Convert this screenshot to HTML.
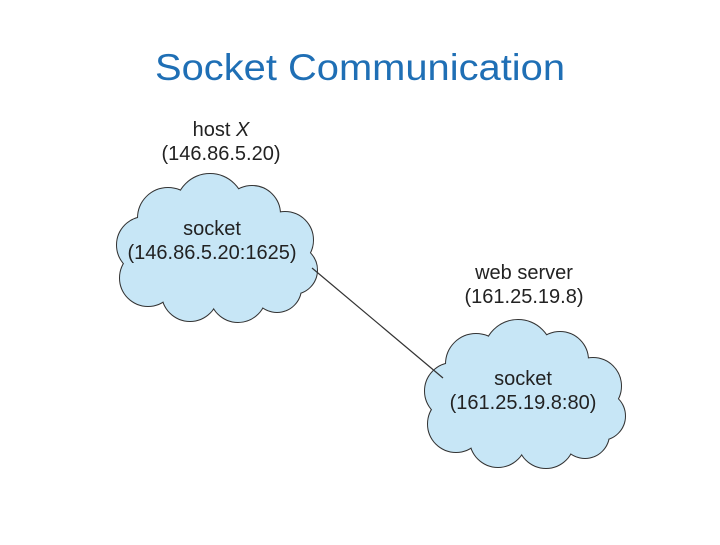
<!DOCTYPE html>
<html><head><style>
body{margin:0;width:720px;height:540px;background:#fff;overflow:hidden;font-family:"Liberation Sans",sans-serif}
</style></head><body>
<svg width="720" height="540" xmlns="http://www.w3.org/2000/svg">
<text x="155" y="80" textLength="410" lengthAdjust="spacingAndGlyphs" font-family="Liberation Sans, sans-serif" font-size="37" fill="#1f6fb5">Socket Communication</text>
<defs>
<g id="c">
<circle cx="210" cy="208" r="34"/><circle cx="252" cy="214" r="28"/><circle cx="168" cy="218" r="30"/>
<circle cx="145" cy="245" r="28"/><circle cx="285" cy="240" r="28"/><circle cx="293" cy="270" r="24"/>
<circle cx="148" cy="278" r="28"/><circle cx="190" cy="293" r="28"/><circle cx="238" cy="294" r="28"/>
<circle cx="277" cy="288" r="24"/><ellipse cx="215" cy="250" rx="80" ry="50"/>
</g>
</defs>
<g fill="#c7e6f6" stroke="#333" stroke-width="2"><use href="#c"/><use href="#c" transform="translate(308,146)"/></g>
<g fill="#c7e6f6" stroke="none"><use href="#c"/><use href="#c" transform="translate(308,146)"/></g>
<line x1="312" y1="268" x2="443" y2="378" stroke="#333" stroke-width="1.2"/>
<g font-family="Liberation Sans, sans-serif" font-size="20" fill="#222" text-anchor="middle">
<text x="221" y="136">host <tspan font-style="italic">X</tspan></text>
<text x="221" y="160">(146.86.5.20)</text>
<text x="212" y="235">socket</text>
<text x="212" y="259">(146.86.5.20:1625)</text>
<text x="524" y="279">web server</text>
<text x="524" y="303">(161.25.19.8)</text>
<text x="523" y="385">socket</text>
<text x="523" y="409">(161.25.19.8:80)</text>
</g>
</svg>
</body></html>
